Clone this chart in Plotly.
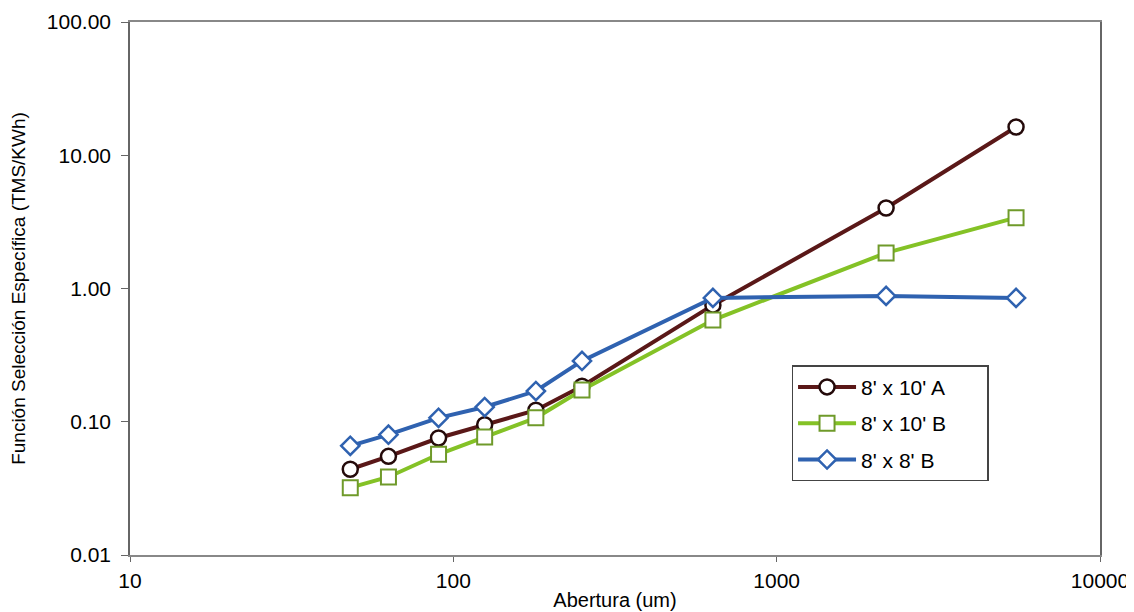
import plotly.graph_objects as go

abertura = [48, 63, 90, 125, 180, 250, 635, 2180, 5500]
serie_a = [0.044, 0.055, 0.0755, 0.095, 0.122, 0.185, 0.75, 4.02, 16.3]
serie_b = [0.032, 0.0385, 0.057, 0.077, 0.107, 0.173, 0.58, 1.85, 3.4]
serie_c = [0.066, 0.080, 0.107, 0.129, 0.170, 0.286, 0.85, 0.88, 0.85]
names = ["8' x 10' A", "8' x 10' B", "8' x 8' B"]

x_ticks = [10, 100, 1000, 10000]
x_labels = ["10", "100", "1000", "10000"]
y_ticks = [0.01, 0.1, 1, 10, 100]
y_labels = ["0.01", "0.10", "1.00", "10.00", "100.00"]

FONT = "Liberation Sans, Arial, sans-serif"
PAD = "\u00a0" * 6  # widens the legend box like the reference

fig = go.Figure()
fig.add_trace(go.Scatter(
    x=abertura, y=serie_a, name=names[0] + PAD, mode="lines+markers", legendgroup="a",
    line=dict(color="#5a1818", width=4),
    marker=dict(symbol="circle", size=15, color="white", line=dict(color="#240a0a", width=2.5)),
))
fig.add_trace(go.Scatter(
    x=abertura, y=serie_b, name=names[1] + PAD, mode="lines+markers", legendgroup="b",
    line=dict(color="#84c226", width=4),
    marker=dict(symbol="square", size=15, color="white", line=dict(color="#6f9a2a", width=2)),
))
fig.add_trace(go.Scatter(
    x=abertura, y=serie_c, name=names[2] + PAD, mode="lines+markers", legendgroup="c",
    line=dict(color="#2f62b0", width=4),
    marker=dict(symbol="diamond", size=14, color="white", line=dict(color="#2f62b0", width=2.5)),
))

fig.update_layout(
    width=1126, height=604,
    margin=dict(l=122, r=34, t=14, b=57),
    paper_bgcolor="white", plot_bgcolor="white",
    font=dict(family=FONT, color="#000000"),
    showlegend=True,
    legend=dict(
        x=0.682, y=0.356, xanchor="left", yanchor="top",
        bgcolor="white", bordercolor="#444444", borderwidth=1.5,
        font=dict(size=21, family=FONT, color="#000000"),
        itemwidth=58, tracegroupgap=6, traceorder="grouped",
    ),
)
fig.update_xaxes(
    type="log", range=[1, 4], automargin=False,
    tickvals=x_ticks, ticktext=x_labels,
    tickfont=dict(size=21), ticks="outside", ticklen=5, tickcolor="#666666",
    ticklabelstandoff=1,
    showgrid=False, zeroline=False,
    showline=True, linecolor="#888888", linewidth=1.5, mirror=True,
    title=dict(text="Abertura (um)", font=dict(size=20), standoff=2),
)
fig.update_yaxes(
    type="log", range=[-2, 2], automargin=False,
    tickvals=y_ticks, ticktext=y_labels,
    tickfont=dict(size=21), ticks="outside", ticklen=7, tickcolor="#666666",
    ticklabelstandoff=6,
    showgrid=False, zeroline=False,
    showline=True, linecolor="#666666", linewidth=1.5, mirror=True,
    title=dict(text="Función Selección Específica (TMS/KWh)", font=dict(size=19), standoff=20),
)

fig.write_html("out.html")
